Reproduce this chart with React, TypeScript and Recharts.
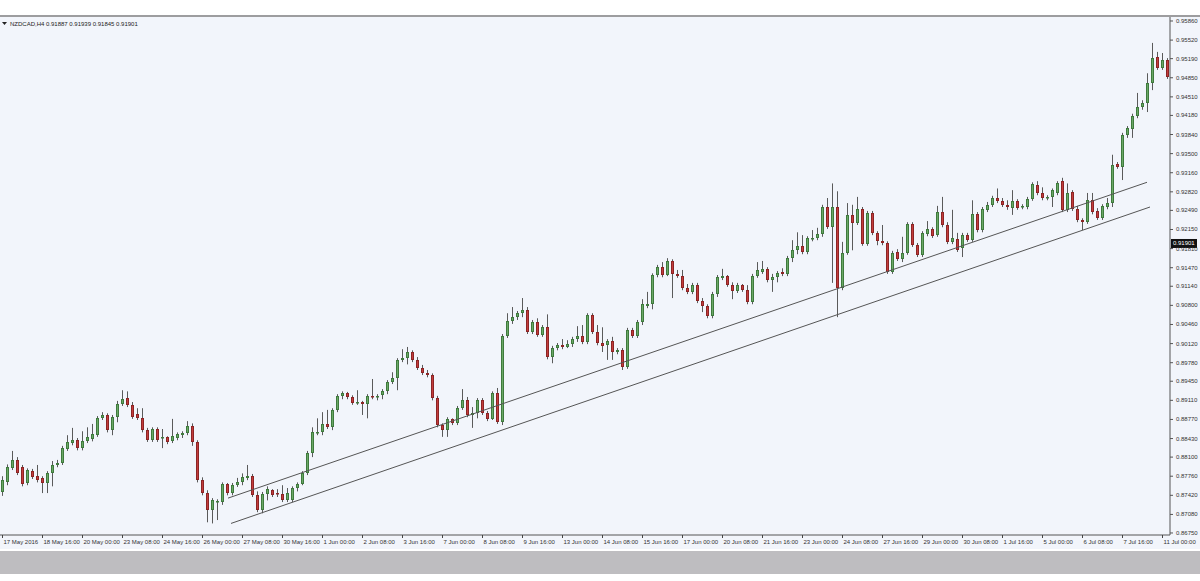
import { Bar, ComposedChart, ReferenceLine, XAxis, YAxis } from "recharts"

// NZDCAD H4 candles (17 May - 11 Jul 2016)
const opens = [
  0.8748, 0.8765, 0.879, 0.8805, 0.8792, 0.8764, 0.8785, 0.8776, 0.8773, 0.8764,
  0.8781, 0.8796, 0.8799, 0.8824, 0.8835, 0.884, 0.8826, 0.8838, 0.8842, 0.8849,
  0.8879, 0.8885, 0.8858, 0.8881, 0.8904, 0.8915, 0.8903, 0.8886, 0.8879, 0.8858,
  0.884, 0.886, 0.8844, 0.8846, 0.8838, 0.8844, 0.8849, 0.8853, 0.8865, 0.8837,
  0.8769, 0.8746, 0.8716, 0.873, 0.873, 0.8762, 0.8746, 0.876, 0.8765, 0.8773,
  0.8776, 0.8742, 0.8716, 0.8744, 0.8751, 0.8746, 0.8744, 0.8733, 0.8733, 0.8755,
  0.8762, 0.8781, 0.8817, 0.8853, 0.8854, 0.8869, 0.8863, 0.8894, 0.8919, 0.8924,
  0.8917, 0.8906, 0.8908, 0.8904, 0.8919, 0.8917, 0.8919, 0.8927, 0.8943, 0.8951,
  0.8983, 0.8986, 0.8997, 0.8983, 0.8968, 0.8959, 0.8956, 0.8915, 0.8867, 0.8858,
  0.8878, 0.887, 0.8897, 0.8911, 0.8885, 0.8888, 0.8911, 0.8888, 0.8878, 0.8924,
  0.8872, 0.9025, 0.9052, 0.9059, 0.9066, 0.9072, 0.9032, 0.905, 0.9027, 0.9041,
  0.8988, 0.9004, 0.9009, 0.9006, 0.9011, 0.902, 0.9025, 0.9015, 0.9063, 0.9032,
  0.9013, 0.9008, 0.9016, 0.8997, 0.9, 0.897, 0.9036, 0.9025, 0.905, 0.9079,
  0.9082, 0.9134, 0.9148, 0.9134, 0.9159, 0.9136, 0.9132, 0.9111, 0.9104, 0.9116,
  0.9088, 0.9079, 0.9061, 0.91, 0.9129, 0.9132, 0.9116, 0.9105, 0.9116, 0.9107,
  0.9086, 0.9132, 0.9139, 0.9145, 0.9125, 0.913, 0.9139, 0.9136, 0.9164, 0.9178,
  0.9186, 0.9175, 0.9198, 0.92, 0.9207, 0.9255, 0.9219, 0.9255, 0.9111, 0.9173,
  0.9241, 0.9226, 0.9251, 0.9189, 0.9244, 0.9209, 0.9194, 0.9191, 0.9139, 0.9175,
  0.9162, 0.9173, 0.9225, 0.9187, 0.917, 0.9207, 0.9216, 0.9205, 0.9246, 0.9223,
  0.9193, 0.9198, 0.9182, 0.9205, 0.9196, 0.9242, 0.9214, 0.925, 0.9259, 0.9271,
  0.9266, 0.9259, 0.9253, 0.9266, 0.9255, 0.9255, 0.9269, 0.9294, 0.928, 0.9271,
  0.9273, 0.928, 0.9301, 0.925, 0.9282, 0.9251, 0.9232, 0.9228, 0.9267, 0.9248,
  0.9235, 0.9255, 0.9262, 0.9331, 0.9326, 0.9383, 0.9394, 0.9417, 0.9433, 0.944,
  0.9476, 0.9522, 0.9502, 0.9517,
]

const highs = [
  0.8776, 0.8797, 0.8821, 0.881, 0.8796, 0.879, 0.8789, 0.8796, 0.8776, 0.8785,
  0.8803, 0.8805, 0.883, 0.8849, 0.8862, 0.8844, 0.8856, 0.8863, 0.8869, 0.8883,
  0.889, 0.8888, 0.8885, 0.891, 0.8929, 0.8927, 0.8908, 0.8897, 0.8897, 0.8862,
  0.8863, 0.8863, 0.886, 0.8847, 0.8878, 0.8854, 0.8856, 0.8874, 0.887, 0.884,
  0.8774, 0.8751, 0.8737, 0.8735, 0.8765, 0.8764, 0.8764, 0.8773, 0.8781, 0.8796,
  0.878, 0.8749, 0.8748, 0.8758, 0.8753, 0.8753, 0.876, 0.8755, 0.8758, 0.8765,
  0.8785, 0.8821, 0.8863, 0.8879, 0.889, 0.8894, 0.8897, 0.8922, 0.8927, 0.8926,
  0.892, 0.8929, 0.891, 0.8922, 0.8949, 0.8922, 0.8931, 0.8947, 0.8961, 0.8986,
  0.9002, 0.9006, 0.9, 0.8988, 0.8974, 0.8965, 0.8959, 0.8919, 0.887, 0.8881,
  0.8879, 0.8901, 0.8931, 0.8917, 0.8899, 0.8915, 0.8915, 0.8892, 0.8927, 0.8933,
  0.9029, 0.9066, 0.9077, 0.907, 0.9093, 0.9077, 0.9054, 0.9057, 0.9045, 0.9064,
  0.9008, 0.9013, 0.902, 0.9018, 0.9024, 0.9043, 0.9045, 0.9066, 0.9066, 0.9045,
  0.9041, 0.902, 0.9024, 0.9004, 0.9004, 0.904, 0.904, 0.9054, 0.9091, 0.9104,
  0.9137, 0.9152, 0.9157, 0.9164, 0.9162, 0.9143, 0.9143, 0.9118, 0.912, 0.912,
  0.9093, 0.9082, 0.9104, 0.9134, 0.9145, 0.9134, 0.9121, 0.912, 0.9118, 0.9116,
  0.9136, 0.9157, 0.9159, 0.9148, 0.9136, 0.9141, 0.9146, 0.9168, 0.9196, 0.921,
  0.9205, 0.9203, 0.9214, 0.9218, 0.9259, 0.9271, 0.9297, 0.9283, 0.9193, 0.9262,
  0.9259, 0.9273, 0.9255, 0.9248, 0.9248, 0.9212, 0.9223, 0.9194, 0.9177, 0.918,
  0.9202, 0.9228, 0.9228, 0.9191, 0.9212, 0.923, 0.9219, 0.9257, 0.9273, 0.9228,
  0.925, 0.9209, 0.9209, 0.9209, 0.9267, 0.9246, 0.9255, 0.9264, 0.9275, 0.9288,
  0.9271, 0.9267, 0.9285, 0.9269, 0.926, 0.9273, 0.9299, 0.9301, 0.929, 0.9276,
  0.9288, 0.9301, 0.9307, 0.9297, 0.9285, 0.9257, 0.9235, 0.928, 0.928, 0.9253,
  0.926, 0.9271, 0.9348, 0.9335, 0.9387, 0.9399, 0.9421, 0.9458, 0.9445, 0.9493,
  0.9547, 0.9531, 0.9529, 0.952,
]

const lows = [
  0.8741, 0.876, 0.8787, 0.8778, 0.8758, 0.876, 0.8771, 0.8765, 0.8746, 0.8746,
  0.8758, 0.8792, 0.8796, 0.8821, 0.8831, 0.8822, 0.8822, 0.8835, 0.8838, 0.8846,
  0.8876, 0.8854, 0.8849, 0.8872, 0.8901, 0.8899, 0.8878, 0.8876, 0.8854, 0.8837,
  0.8837, 0.8837, 0.8826, 0.8833, 0.8835, 0.884, 0.8844, 0.8849, 0.883, 0.8765,
  0.8742, 0.8694, 0.8692, 0.8698, 0.8725, 0.8742, 0.8742, 0.8757, 0.876, 0.8769,
  0.8739, 0.8712, 0.871, 0.8733, 0.8739, 0.8739, 0.873, 0.873, 0.873, 0.8749,
  0.876, 0.8778, 0.881, 0.8849, 0.8849, 0.886, 0.8858, 0.889, 0.8913, 0.8913,
  0.8903, 0.8903, 0.8885, 0.8879, 0.8913, 0.8911, 0.8913, 0.8922, 0.894, 0.8929,
  0.8979, 0.8975, 0.8979, 0.8965, 0.8956, 0.8952, 0.8911, 0.8863, 0.8846, 0.8846,
  0.8867, 0.8867, 0.8894, 0.8881, 0.8862, 0.8879, 0.8885, 0.8874, 0.8876, 0.8869,
  0.8867, 0.9022, 0.9047, 0.9054, 0.9059, 0.9029, 0.9029, 0.9024, 0.9024, 0.8984,
  0.8977, 0.9, 0.9002, 0.9004, 0.9006, 0.9015, 0.9011, 0.9011, 0.9029, 0.9009,
  0.8997, 0.8983, 0.8983, 0.8993, 0.8965, 0.8967, 0.9022, 0.9022, 0.9045, 0.9075,
  0.9073, 0.913, 0.913, 0.9132, 0.9093, 0.9129, 0.9107, 0.91, 0.91, 0.9084,
  0.9068, 0.9057, 0.9057, 0.9095, 0.9125, 0.9113, 0.9091, 0.9102, 0.9104, 0.9082,
  0.9082, 0.9129, 0.9136, 0.9121, 0.9104, 0.9121, 0.9132, 0.9132, 0.9157, 0.9171,
  0.9171, 0.9171, 0.9194, 0.9196, 0.9202, 0.9216, 0.912, 0.9059, 0.9107, 0.917,
  0.9178, 0.9223, 0.9186, 0.9186, 0.9205, 0.9187, 0.9187, 0.9136, 0.9136, 0.9159,
  0.9157, 0.917, 0.9184, 0.9166, 0.9166, 0.9203, 0.92, 0.9202, 0.9219, 0.9189,
  0.9189, 0.9175, 0.9166, 0.9193, 0.9193, 0.921, 0.921, 0.9246, 0.9255, 0.9262,
  0.9255, 0.925, 0.9241, 0.925, 0.9251, 0.9251, 0.9266, 0.9276, 0.9267, 0.9267,
  0.9255, 0.9276, 0.9246, 0.9246, 0.9248, 0.9228, 0.9214, 0.9225, 0.9242, 0.9232,
  0.9232, 0.9251, 0.9255, 0.9323, 0.9303, 0.9378, 0.9378, 0.9413, 0.9428, 0.9424,
  0.9463, 0.9499, 0.9499, 0.9483,
]

const closes = [
  0.8769, 0.8792, 0.8805, 0.8781, 0.8762, 0.8787, 0.8774, 0.8769, 0.8764, 0.8781,
  0.8796, 0.8799, 0.8826, 0.8837, 0.884, 0.8826, 0.8838, 0.8846, 0.8851, 0.8879,
  0.8885, 0.8858, 0.8881, 0.8904, 0.8913, 0.8903, 0.8881, 0.8879, 0.8858, 0.884,
  0.886, 0.884, 0.8846, 0.8837, 0.8847, 0.8851, 0.8853, 0.8865, 0.8837, 0.8769,
  0.8746, 0.8716, 0.8733, 0.8732, 0.8762, 0.8746, 0.876, 0.8765, 0.8774, 0.8776,
  0.8742, 0.8716, 0.8744, 0.8753, 0.8742, 0.8744, 0.8733, 0.8746, 0.8755, 0.8762,
  0.8781, 0.8817, 0.8854, 0.8854, 0.8869, 0.8863, 0.8894, 0.8919, 0.8924, 0.8917,
  0.8906, 0.8908, 0.8904, 0.8919, 0.8917, 0.8919, 0.8927, 0.8943, 0.8951, 0.8983,
  0.8986, 0.8997, 0.8983, 0.8968, 0.8959, 0.8956, 0.8915, 0.8867, 0.8858, 0.8878,
  0.887, 0.8897, 0.8911, 0.8885, 0.8888, 0.8911, 0.8888, 0.8878, 0.8924, 0.8872,
  0.9025, 0.9052, 0.9059, 0.9066, 0.9072, 0.9032, 0.905, 0.9027, 0.9041, 0.8988,
  0.9004, 0.9009, 0.9006, 0.9011, 0.902, 0.9025, 0.9015, 0.9063, 0.9032, 0.9013,
  0.9008, 0.9016, 0.8997, 0.9, 0.897, 0.9036, 0.9025, 0.905, 0.9082, 0.9082,
  0.9134, 0.9148, 0.9134, 0.9159, 0.9136, 0.9132, 0.9111, 0.9104, 0.9116, 0.9088,
  0.9079, 0.9061, 0.91, 0.913, 0.9132, 0.9116, 0.9105, 0.9116, 0.9107, 0.9086,
  0.9132, 0.9143, 0.9145, 0.9125, 0.913, 0.9137, 0.9136, 0.9164, 0.9178, 0.9186,
  0.9175, 0.92, 0.92, 0.9207, 0.9255, 0.9219, 0.9255, 0.9111, 0.9173, 0.9241,
  0.9226, 0.9251, 0.9189, 0.9244, 0.9209, 0.9194, 0.9191, 0.9139, 0.9173, 0.9162,
  0.9173, 0.9225, 0.9187, 0.917, 0.9209, 0.9216, 0.9203, 0.9246, 0.9223, 0.9193,
  0.92, 0.9178, 0.9205, 0.9196, 0.9242, 0.9214, 0.9251, 0.9259, 0.9271, 0.9266,
  0.9259, 0.9255, 0.9266, 0.9253, 0.9257, 0.9269, 0.9296, 0.928, 0.9271, 0.9273,
  0.9285, 0.9297, 0.925, 0.928, 0.9251, 0.9232, 0.9228, 0.9267, 0.9246, 0.9235,
  0.9257, 0.9262, 0.933, 0.9326, 0.9383, 0.9396, 0.9417, 0.9433, 0.944, 0.9476,
  0.952, 0.9502, 0.9517, 0.9486,
]

// bar index of each time label on the bottom axis
const labelBars = [
  0, 8, 16, 24, 32, 40, 48, 56, 64, 72, 80, 88, 96, 104, 112,
  120, 128, 136, 144, 152, 160, 168, 176, 184, 192, 200, 208, 216, 224, 232,
]
const dateLabels = [
  "17 May 2016", "18 May 16:00", "20 May 00:00", "23 May 08:00", "24 May 16:00",
  "26 May 00:00", "27 May 08:00", "30 May 16:00", "1 Jun 00:00", "2 Jun 08:00",
  "3 Jun 16:00", "7 Jun 00:00", "8 Jun 08:00", "9 Jun 16:00", "13 Jun 00:00",
  "14 Jun 08:00", "15 Jun 16:00", "17 Jun 00:00", "20 Jun 08:00", "21 Jun 16:00",
  "23 Jun 00:00", "24 Jun 08:00", "27 Jun 16:00", "29 Jun 00:00", "30 Jun 08:00",
  "1 Jul 16:00", "5 Jul 00:00", "6 Jul 08:00", "7 Jul 16:00", "11 Jul 00:00",
]

const priceTicks = [
  0.9586, 0.9552, 0.9519, 0.9485, 0.9451, 0.9418, 0.9384, 0.935, 0.9316, 0.9282,
  0.9249, 0.9215, 0.9181, 0.9147, 0.9114, 0.908, 0.9046, 0.9012, 0.8978, 0.8945,
  0.8911, 0.8877, 0.8843, 0.881, 0.8776, 0.8742, 0.8708, 0.8675,
]
const priceDomain = [0.86714, 0.95931]
const lastPrice = 0.91901
const header = ["NZDCAD,H4", "0.91887", "0.91939", "0.91845", "0.91901"]

// the two hand-drawn trend lines (bar index, price)
const upperLine = [
  { x: 45.1, y: 0.8737 },
  { x: 228.9, y: 0.9299 },
]
const lowerLine = [
  { x: 45.7, y: 0.8692 },
  { x: 229.5, y: 0.9255 },
]

const data = opens.map((open, i) => ({
  i,
  open,
  high: highs[i],
  low: lows[i],
  close: closes[i],
  range: [lows[i], highs[i]],
}))

const FONT = "'Liberation Sans', Arial, sans-serif"

function Candle(props: any) {
  const { x, y, width, height, payload } = props
  if (!payload || height == null) return null
  const { open, close, high, low } = payload
  const top = Math.min(y, y + height)
  const h = Math.abs(height)
  const k = high - low > 0 ? h / (high - low) : 0
  const cx = Math.round(x + width / 2) + 0.5
  const yO = top + (high - open) * k
  const yC = top + (high - close) * k
  const up = close >= open
  const bTop = Math.round(Math.min(yO, yC))
  const bH = Math.max(1, Math.round(Math.abs(yO - yC)))
  return (
    <g>
      <line x1={cx} x2={cx} y1={top} y2={top + h} stroke="#5a5a5a" strokeWidth={1} />
      <rect
        x={cx - 1}
        y={bTop + 0.5}
        width={2}
        height={Math.max(0.5, bH - 1)}
        fill={up ? "#6aa866" : "#c33c3c"}
        stroke={up ? "#3f7a3d" : "#8c2424"}
        strokeWidth={1}
      />
    </g>
  )
}

function DateTick(props: any) {
  const { x, y, payload } = props
  const idx = labelBars.indexOf(payload.value)
  return (
    <g>
      <line x1={x} x2={x} y1={y} y2={y + 3} stroke="#444" />
      <text x={x + 1} y={y + 9} fontSize={6} fontFamily={FONT} fill="#333" textAnchor="start">
        {dateLabels[idx]}
      </text>
    </g>
  )
}

function PriceTick(props: any) {
  const { x, y, payload } = props
  return (
    <text x={x} y={y + 2} fontSize={6} fontFamily={FONT} fill="#333" textAnchor="start">
      {payload.value.toFixed(5)}
    </text>
  )
}

function PriceBox(props: any) {
  const vb = props.viewBox || {}
  const bx = vb.x + vb.width + 1
  return (
    <g>
      <rect x={bx} y={vb.y - 4.5} width={26} height={9} fill="#111" />
      <text x={bx + 2} y={vb.y + 2} fontSize={6} fontFamily={FONT} fill="#fff">
        {lastPrice.toFixed(5)}
      </text>
    </g>
  )
}

export default function App() {
  return (
    <div style={{ position: "absolute", left: 0, top: 0, width: 1200, height: 581, background: "#fff", overflow: "hidden" }}>
      <div style={{ position: "absolute", left: 0, top: 15, width: 1200, height: 2, background: "#9d9d9f" }} />
      <div style={{ position: "absolute", left: 0, top: 17, width: 1200, height: 532, background: "#f2f5fb" }} />
      <div style={{ position: "absolute", left: 0, top: 551, width: 1200, height: 23, background: "#bebdc0" }} />
      <div style={{ position: "absolute", left: 0, top: 17 }}>
        <svg width={200} height={12}>
          <path d="M2 3 L7 3 L4.5 6 Z" fill="#222" />
          <text x={10} y={7} fontSize={6} fontFamily={FONT} fill="#222">
            {header.join(" ")}
          </text>
        </svg>
      </div>
      <div style={{ position: "absolute", left: 0, top: 0 }}>
        <ComposedChart width={1200} height={581} data={data} margin={{ top: 17, right: 0, bottom: 32, left: 0 }}>
          <XAxis
            dataKey="i"
            type="number"
            domain={[-0.5, 233.5]}
            allowDataOverflow
            ticks={labelBars}
            interval={0}
            height={14}
            tickSize={0}
            tickMargin={0}
            stroke="#555"
            tick={<DateTick />}
          />
          <YAxis
            orientation="right"
            type="number"
            domain={priceDomain}
            allowDataOverflow
            ticks={priceTicks}
            interval={0}
            width={30}
            tickSize={3}
            tickMargin={3}
            stroke="#555"
            tick={<PriceTick />}
          />
          <Bar dataKey="range" barSize={5} shape={<Candle />} isAnimationActive={false} />
          <ReferenceLine segment={upperLine} stroke="#555" strokeWidth={1} />
          <ReferenceLine segment={lowerLine} stroke="#555" strokeWidth={1} />
          <ReferenceLine y={lastPrice} stroke="none" label={<PriceBox />} />
        </ComposedChart>
      </div>
    </div>
  )
}
